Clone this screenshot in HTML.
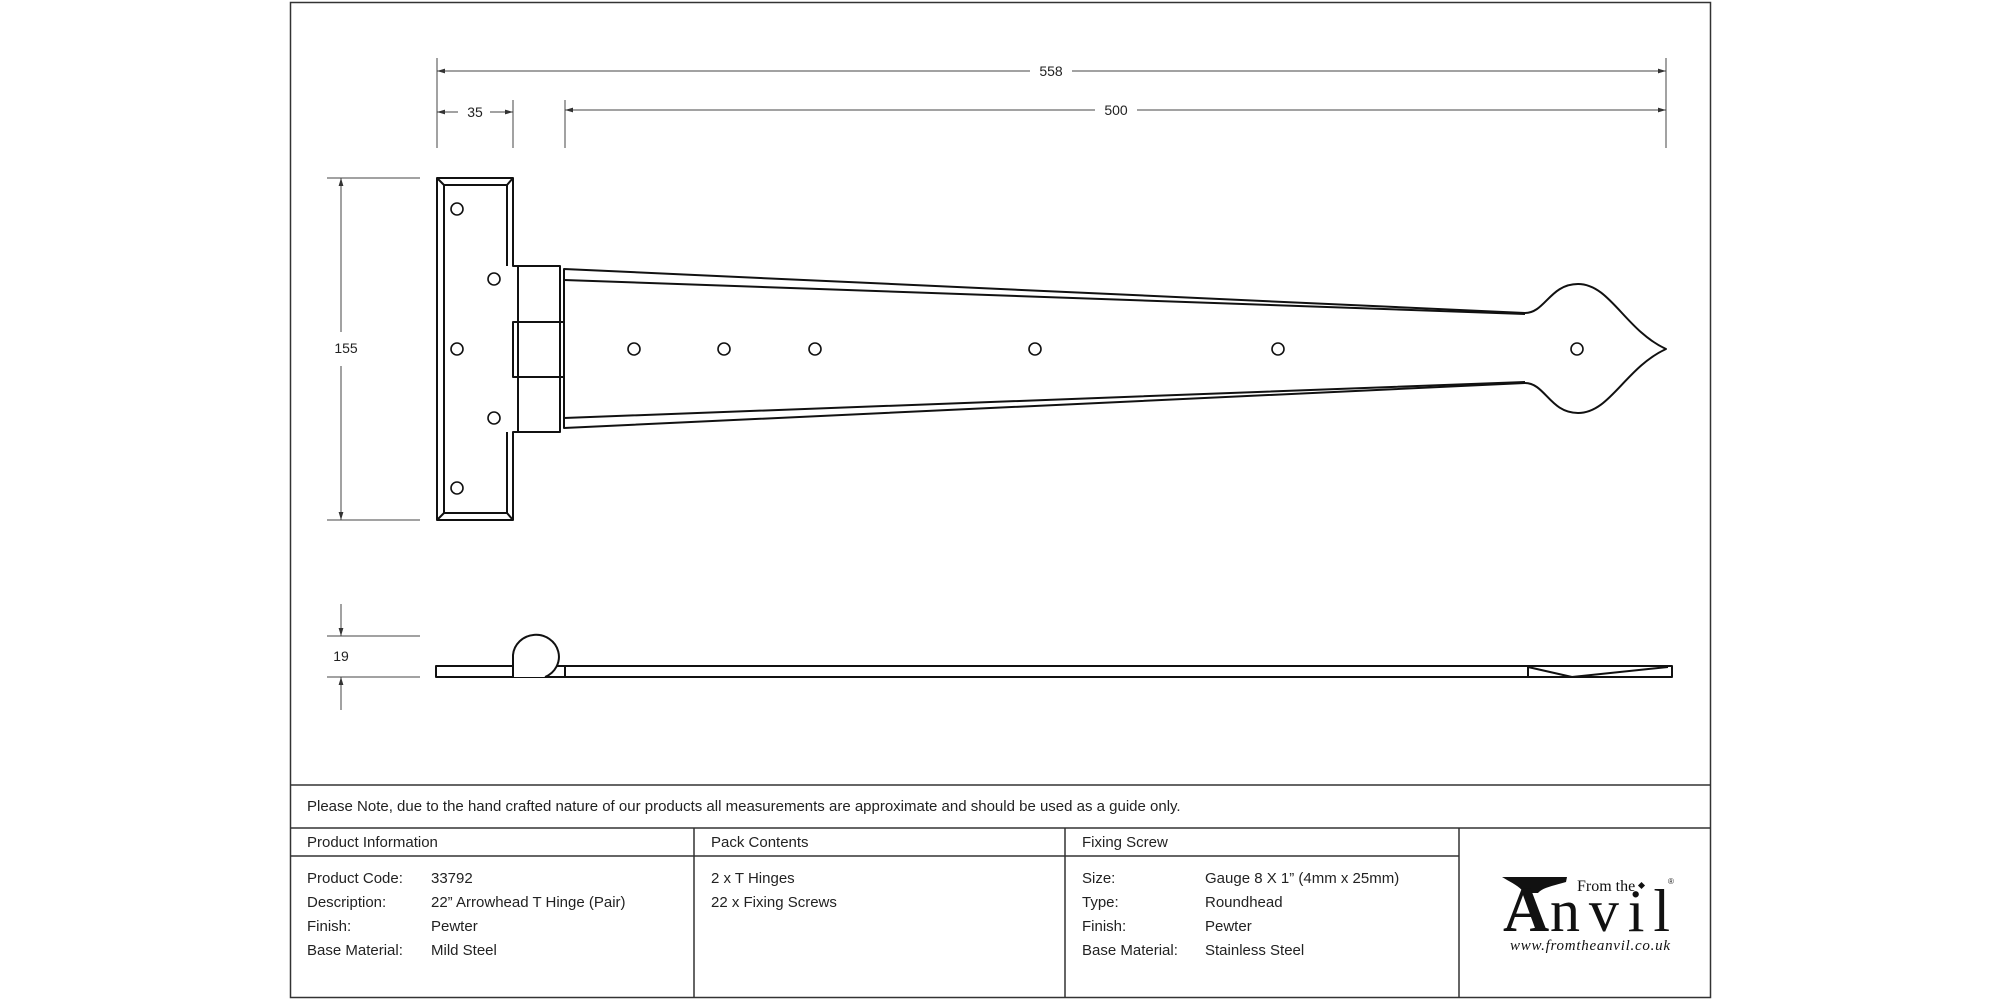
<!DOCTYPE html>
<html><head><style>
body{margin:0;background:#fff;}
svg{display:block}
text{font-family:"Liberation Sans",sans-serif;fill:#222}
</style></head><body>
<svg width="2000" height="1000" viewBox="0 0 2000 1000" xmlns="http://www.w3.org/2000/svg">
<defs>
<marker id="a" viewBox="0 0 10 10" refX="10" refY="5" markerWidth="8" markerHeight="8" orient="auto-start-reverse"><path d="M0,2 L10,5 L0,8z" fill="#333"/></marker>
</defs>
<rect x="290.5" y="2.5" width="1420" height="995" fill="none" stroke="#333" stroke-width="1.5"/>
<g stroke="#333" stroke-width="1.5" fill="none">
<line x1="290" y1="785" x2="1710" y2="785"/>
<line x1="290" y1="828" x2="1710" y2="828"/>
<line x1="290" y1="856" x2="1459" y2="856"/>
<line x1="694" y1="828" x2="694" y2="998"/>
<line x1="1065" y1="828" x2="1065" y2="998"/>
<line x1="1459" y1="828" x2="1459" y2="998"/>
</g>
<g stroke="#444" stroke-width="1" fill="none">
<line x1="437" y1="58" x2="437" y2="148"/>
<line x1="1666" y1="58" x2="1666" y2="148"/>
<line x1="565" y1="100" x2="565" y2="148"/>
<line x1="513" y1="100" x2="513" y2="148"/>
<line x1="437" y1="71" x2="1030" y2="71" marker-start="url(#a)"/>
<line x1="1072" y1="71" x2="1666" y2="71" marker-end="url(#a)"/>
<line x1="565" y1="110" x2="1095" y2="110" marker-start="url(#a)"/>
<line x1="1137" y1="110" x2="1666" y2="110" marker-end="url(#a)"/>
<line x1="437" y1="112" x2="458" y2="112" marker-start="url(#a)"/>
<line x1="490" y1="112" x2="513" y2="112" marker-end="url(#a)"/>
<line x1="327" y1="178" x2="420" y2="178"/>
<line x1="327" y1="520" x2="420" y2="520"/>
<line x1="341" y1="178" x2="341" y2="332" marker-start="url(#a)"/>
<line x1="341" y1="366" x2="341" y2="520" marker-end="url(#a)"/>
<line x1="327" y1="636" x2="420" y2="636"/>
<line x1="327" y1="677" x2="420" y2="677"/>
<line x1="341" y1="604" x2="341" y2="636" marker-end="url(#a)"/>
<line x1="341" y1="710" x2="341" y2="677" marker-end="url(#a)"/>
</g>
<g font-size="14">
<text x="1051" y="76" text-anchor="middle">558</text>
<text x="1116" y="115" text-anchor="middle">500</text>
<text x="475" y="117" text-anchor="middle">35</text>
<text x="346" y="353" text-anchor="middle">155</text>
<text x="341" y="661" text-anchor="middle">19</text>
</g>
<g stroke="#111" stroke-width="2" fill="none" stroke-linejoin="round">
<path d="M437,178 H513 V266 H518 V432 H513 V520 H437 Z"/>
<path d="M507,266 V185 H444 V513 H507 V432"/>
<line x1="437" y1="178" x2="444" y2="185"/><line x1="513" y1="178" x2="507" y2="185"/>
<line x1="437" y1="520" x2="444" y2="513"/><line x1="513" y1="520" x2="507" y2="513"/>
<rect x="518" y="266" width="42" height="166"/>
<rect x="513" y="322" width="51" height="55"/>
<path d="M564,269 L1525,313 C1545,313 1550,284 1578,284 C1610,284 1625,330 1666,349 C1625,368 1610,413 1578,413 C1550,413 1545,383 1525,383 L564,428 Z"/>
<path d="M564,280 L1525,314 M564,418 L1525,382"/>
<g stroke-width="1.6">
<circle cx="457" cy="209" r="6"/><circle cx="494" cy="279" r="6"/><circle cx="457" cy="349" r="6"/><circle cx="494" cy="418" r="6"/><circle cx="457" cy="488" r="6"/>
<circle cx="634" cy="349" r="6"/><circle cx="724" cy="349" r="6"/><circle cx="815" cy="349" r="6"/><circle cx="1035" cy="349" r="6"/><circle cx="1278" cy="349" r="6"/><circle cx="1577" cy="349" r="6"/>
</g>
<rect x="436" y="666" width="1236" height="11"/>
<path d="M513,677 V655 A23,22 0 1 1 545,677" fill="#fff"/>
<line x1="565" y1="666" x2="565" y2="677"/>
<line x1="1528" y1="666" x2="1528" y2="677"/>
<path d="M1528,667 L1572,677 L1668,667"/>
</g>
<g font-size="15">
<text x="307" y="811">Please Note, due to the hand crafted nature of our products all measurements are approximate and should be used as a guide only.</text>
<text x="307" y="847">Product Information</text>
<text x="711" y="847">Pack Contents</text>
<text x="1082" y="847">Fixing Screw</text>
<text x="307" y="883">Product Code:</text><text x="431" y="883">33792</text>
<text x="307" y="907">Description:</text><text x="431" y="907">22” Arrowhead T Hinge (Pair)</text>
<text x="307" y="931">Finish:</text><text x="431" y="931">Pewter</text>
<text x="307" y="955">Base Material:</text><text x="431" y="955">Mild Steel</text>
<text x="711" y="883">2 x T Hinges</text>
<text x="711" y="907">22 x Fixing Screws</text>
<text x="1082" y="883">Size:</text><text x="1205" y="883">Gauge 8 X 1” (4mm x 25mm)</text>
<text x="1082" y="907">Type:</text><text x="1205" y="907">Roundhead</text>
<text x="1082" y="931">Finish:</text><text x="1205" y="931">Pewter</text>
<text x="1082" y="955">Base Material:</text><text x="1205" y="955">Stainless Steel</text>
</g>
<path d="M1502,877 H1567 L1566,882 C1552,886 1542,888 1538,893 L1524,893 C1520,886 1510,882 1502,877 Z" fill="#111"/>
<text x="1503" y="931" style="font-family:'Liberation Serif',serif;font-size:64px;font-weight:bold;fill:#111">A</text>
<text x="1550" y="931" textLength="120" lengthAdjust="spacing" style="font-family:'Liberation Serif',serif;font-size:60px;fill:#111">nvil</text>
<text x="1577" y="891" style="font-family:'Liberation Serif',serif;font-size:16px;fill:#111">From the</text>
<rect x="1639" y="883" width="5" height="5" transform="rotate(45 1641.5 885.5)" fill="#111"/>
<text x="1668" y="884" style="font-size:8px">®</text>
<text x="1510" y="950" textLength="160" style="font-family:'Liberation Serif',serif;font-style:italic;font-size:15px;fill:#111">www.fromtheanvil.co.uk</text>
</svg>
</body></html>
